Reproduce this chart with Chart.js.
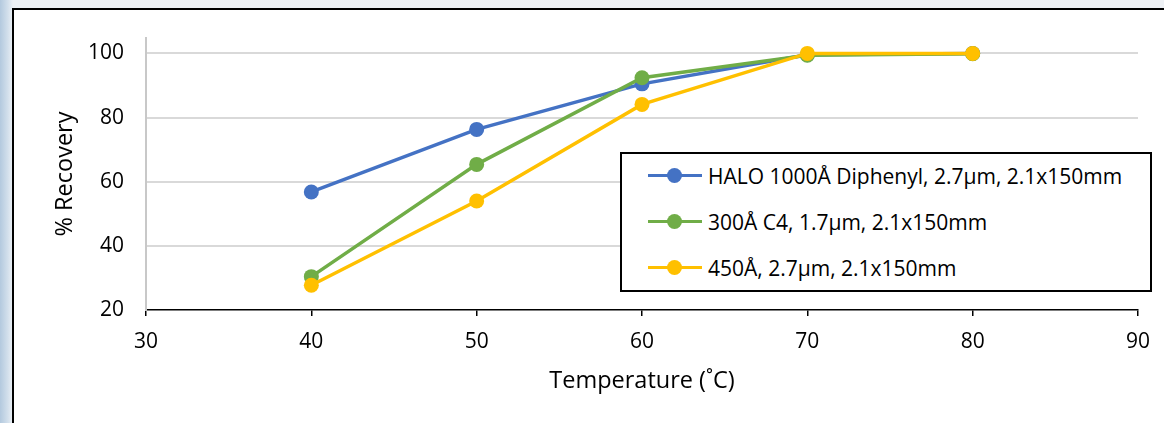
<!DOCTYPE html>
<html>
<head>
<meta charset="utf-8">
<script src="https://cdn.jsdelivr.net/npm/chart.js@4.4.1/dist/chart.umd.min.js"></script>
<style>
    html, body {
        margin: 0;
        width: 1164px;
        height: 423px;
        overflow: hidden;
        background: linear-gradient(to right, #b3c9de 0px, #d3e0ec 8px, #edf1f5 13px, #eef1f5 100%);
    }
    #frame {
        position: absolute;
        left: 12px;
        top: 8px;
        right: 0;
        bottom: 0;
        background: #fff;
        border-left: 2px solid #000;
        border-top: 2px solid #000;
    }
    #wrap {
        position: absolute;
        left: 0;
        top: 0;
        width: 1164px;
        height: 423px;
    }
    #legend {
        position: absolute;
        left: 620px;
        top: 152px;
        width: 528px;
        height: 136px;
        border: 2px solid #000;
        background: #fff;
        font-family: "Open Sans", sans-serif;
        font-size: 21px;
        color: #000;
    }
    .row {
        position: absolute;
        left: 0;
        height: 24px;
        line-height: 24px;
        white-space: nowrap;
    }
    .sample {
        position: absolute;
        left: 26px;
        top: 10px;
        width: 54px;
        height: 3px;
    }
    .dot {
        position: absolute;
        left: 19px;
        top: -6px;
        width: 15px;
        height: 15px;
        border-radius: 50%;
    }
    .label {
        position: absolute;
        left: 86px;
        top: 0;
    }
</style>
</head>
<body>
<div id="frame"></div>
<div id="wrap"><canvas id="chart1"></canvas></div>
<div id="legend"></div>
<script>
// temperatures (°C)
const temps = [40, 50, 60, 70, 80];
// % recovery per column
const halo1000 = [56.8, 76.3, 90.5, 99.6, 100];
const c4_300 = [30.4, 65.4, 92.4, 99.4, 99.9];
const a450 = [27.7, 54.0, 84.1, 100, 100];

const seriesLabels = [
    "HALO 1000Å Diphenyl, 2.7µm, 2.1x150mm",
    "300Å C4, 1.7µm, 2.1x150mm",
    "450Å, 2.7µm, 2.1x150mm"
];
const seriesColors = ["#4472C4", "#70AD47", "#FFC000"];
const yTicks = [20, 40, 60, 80, 100];

const FONT = "'Open Sans', sans-serif";

function makeDataset(i, values) {
    return {
        label: seriesLabels[i],
        data: temps.map((t, k) => ({ x: t, y: values[k] })),
        borderColor: seriesColors[i],
        backgroundColor: seriesColors[i],
        borderWidth: 3.5,
        pointRadius: 7.5,
        pointBorderWidth: 0,
        pointHoverRadius: 7.5,
        tension: 0,
        order: 3 - i // yellow drawn on top, like the original
    };
}

const ctx = document.getElementById("chart1").getContext("2d");
const chart = new Chart(ctx, {
    type: "line",
    data: {
        datasets: [
            makeDataset(0, halo1000),
            makeDataset(1, c4_300),
            makeDataset(2, a450)
        ]
    },
    options: {
        responsive: true,
        maintainAspectRatio: false,
        animation: false,
        layout: {
            padding: { left: 0, right: 26, top: 38, bottom: 0 }
        },
        scales: {
            x: {
                type: "linear",
                min: 30,
                max: 90,
                ticks: {
                    stepSize: 10,
                    color: "#000",
                    padding: 13,
                    font: { family: FONT, size: 21 }
                },
                grid: {
                    drawOnChartArea: false,
                    drawTicks: true,
                    tickLength: 6,
                    color: "#000",
                    lineWidth: 1.5
                },
                border: { color: "#000", width: 1.5 },
                title: {
                    display: true,
                    text: "Temperature (˚C)",
                    color: "#000",
                    padding: { top: 0, bottom: 28 },
                    font: { family: FONT, size: 23.5 }
                },
                afterFit: function (scale) { scale.height = 113; }
            },
            y: {
                min: 20,
                max: 104.8,
                afterBuildTicks: function (scale) {
                    scale.ticks = yTicks.map(v => ({ value: v }));
                },
                ticks: {
                    color: "#000",
                    padding: 22,
                    font: { family: FONT, size: 21 }
                },
                grid: {
                    drawTicks: false,
                    color: c => (c.tick && c.tick.value === 20) ? "rgba(0,0,0,0)" : "#d9d9d9",
                    lineWidth: 2
                },
                border: { color: "#c8c8c8", width: 2 },
                title: {
                    display: true,
                    text: "% Recovery",
                    color: "#000",
                    padding: { top: 51, bottom: 0 },
                    font: { family: FONT, size: 23.5 }
                },
                afterFit: function (scale) { scale.width = 146; }
            }
        },
        plugins: {
            legend: { display: false },
            tooltip: { enabled: false }
        }
    }
});

// html legend built from the datasets
const legendBox = document.getElementById("legend");
chart.data.datasets.forEach(function (ds, i) {
    const row = document.createElement("div");
    row.className = "row";
    row.style.top = (10 + 46 * i) + "px";
    row.style.width = "100%";
    row.innerHTML =
        '<div class="sample" style="background:' + ds.borderColor + '">' +
        '<div class="dot" style="background:' + ds.borderColor + '"></div></div>' +
        '<span class="label"></span>';
    row.querySelector(".label").textContent = ds.label;
    legendBox.appendChild(row);
});
</script>
</body>
</html>
